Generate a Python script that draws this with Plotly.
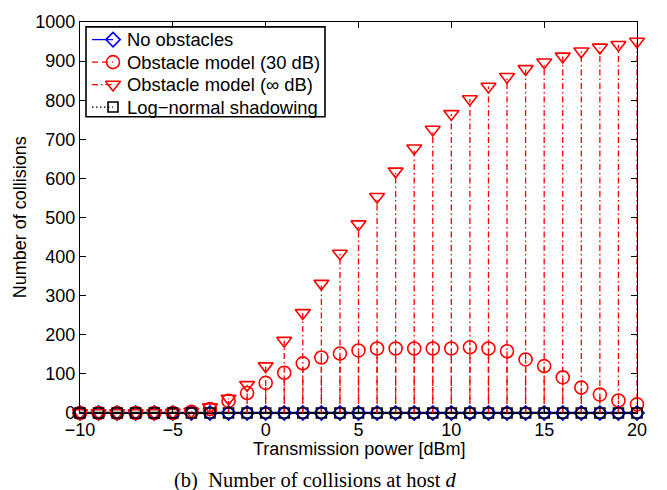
import plotly.graph_objects as go

# ---- data ----
tx_power = list(range(-10, 21))
no_obstacles = [0] * 31
obstacle_30db = [0, 0, 0, 0, 0, 0, 3, 10, 31, 51, 77, 103, 127, 142, 152, 160, 165, 165, 165,
                 165, 165, 168, 165, 158, 137, 120, 91, 65, 47, 32, 22]
obstacle_inf = [0, 0, 0, 0, 0, 1, 4, 15, 37, 72, 120, 185, 256, 331, 408, 483, 553, 618, 677,
                725, 765, 803, 835, 860, 880, 897, 912, 925, 935, 942, 950]
lognormal = [0] * 31

series_names = ["No obstacles", "Obstacle model (30 dB)", "Obstacle model (\u221e dB)",
                "Log\u2212normal shadowing"]
x_ticks = [-10, -5, 0, 5, 10, 15, 20]
y_ticks = list(range(0, 1001, 100))

FONT = "Liberation Sans, Arial, sans-serif"
FS = 18

styles = [
    dict(values=no_obstacles, color="#0000ff", dash="solid", symbol="diamond-open", size=11),
    dict(values=obstacle_30db, color="#ff0000", dash="6px,4px", symbol="circle-open", size=13),
    dict(values=obstacle_inf, color="#ff0000", dash="6px,3px,1.5px,3px", symbol="triangle-down-open", size=13),
    dict(values=lognormal, color="#000000", dash="1.5px,2.5px", symbol="square-open", size=10),
]

# plot-area pixel frame (used for the legend overlay axes)
L, R, T, B = 80, 637, 13, 413

fig = go.Figure()

# baseline of the stem plot
fig.add_trace(go.Scatter(x=[tx_power[0], tx_power[-1]], y=[0, 0], mode="lines",
                         line=dict(color="black", width=2.5), showlegend=False,
                         hoverinfo="skip", cliponaxis=False))

for name, st in zip(series_names, styles):
    xs, ys = [], []
    for xv, yv in zip(tx_power, st["values"]):
        xs += [xv, xv, None]
        ys += [0, yv, None]
    fig.add_trace(go.Scatter(x=xs, y=ys, mode="lines",
                             line=dict(color=st["color"], width=1.3, dash=st["dash"]),
                             showlegend=False, hoverinfo="skip", cliponaxis=False))
    fig.add_trace(go.Scatter(x=tx_power, y=st["values"], mode="markers",
                             marker=dict(symbol=st["symbol"], size=st["size"], color=st["color"],
                                         line=dict(color=st["color"], width=1.6)),
                             showlegend=False, cliponaxis=False))

# ---- manual legend (overlay axes in pixel units) ----
leg_rows = [31, 54, 77, 100]
annotations = []
for name, st, ry in zip(series_names, styles, leg_rows):
    fig.add_trace(go.Scatter(x=[92, 113], y=[ry, ry], xaxis="x2", yaxis="y2", mode="lines",
                             line=dict(color=st["color"], width=1.3, dash=st["dash"]),
                             showlegend=False, hoverinfo="skip"))
    fig.add_trace(go.Scatter(x=[113], y=[ry], xaxis="x2", yaxis="y2", mode="markers",
                             marker=dict(symbol=st["symbol"], size=st["size"], color=st["color"],
                                         line=dict(color=st["color"], width=1.6)),
                             showlegend=False, hoverinfo="skip"))
    annotations.append(dict(text=name, xref="x2", yref="y2", x=125, y=ry,
                            xanchor="left", yanchor="middle", showarrow=False,
                            font=dict(family=FONT, size=18.4, color="black")))

axis_common = dict(showline=True, linecolor="black", linewidth=1.4, mirror="ticks",
                   ticks="inside", ticklen=6, tickwidth=1.2, tickcolor="black",
                   showgrid=False, zeroline=False,
                   tickfont=dict(family=FONT, size=FS, color="black"))

fig.update_xaxes(range=[-10, 20], tickvals=x_ticks,
                 ticktext=[("\u2212" + str(-t)) if t < 0 else str(t) for t in x_ticks],
                 **axis_common)
fig.update_yaxes(range=[0, 1000], tickvals=y_ticks, ticktext=[str(t) for t in y_ticks],
                 **axis_common)

annotations += [
    dict(text="Transmission power [dBm]", xref="paper", yref="paper",
         x=0.5, y=-0.093, xanchor="center", yanchor="middle", showarrow=False,
         font=dict(family=FONT, size=FS, color="black")),
    dict(text="Number of collisions", xref="paper", yref="paper",
         x=-0.108, y=0.5, xanchor="center", yanchor="middle", textangle=-90,
         showarrow=False, font=dict(family=FONT, size=FS, color="black")),
    dict(text="(b)\u2002Number of collisions at host <i>d</i>", xref="paper", yref="paper",
         x=0.422, y=-0.172, xanchor="center", yanchor="middle", showarrow=False,
         font=dict(family="Liberation Serif, Times New Roman, serif", size=20.5, color="black")),
]

fig.update_layout(
    width=667, height=490,
    margin=dict(l=L, r=667 - R, t=T, b=490 - B),
    paper_bgcolor="white", plot_bgcolor="white",
    font=dict(family=FONT, size=FS, color="black"),
    showlegend=False,
    xaxis2=dict(overlaying="x", range=[L, R], visible=False, fixedrange=True),
    yaxis2=dict(overlaying="y", range=[B, T], visible=False, fixedrange=True),
    shapes=[dict(type="rect", xref="x2", yref="y2", x0=86, x1=325, y0=18, y1=110,
                 fillcolor="white", line=dict(color="black", width=1.6), layer="below")],
    annotations=annotations,
)

fig.write_html("out.html")
